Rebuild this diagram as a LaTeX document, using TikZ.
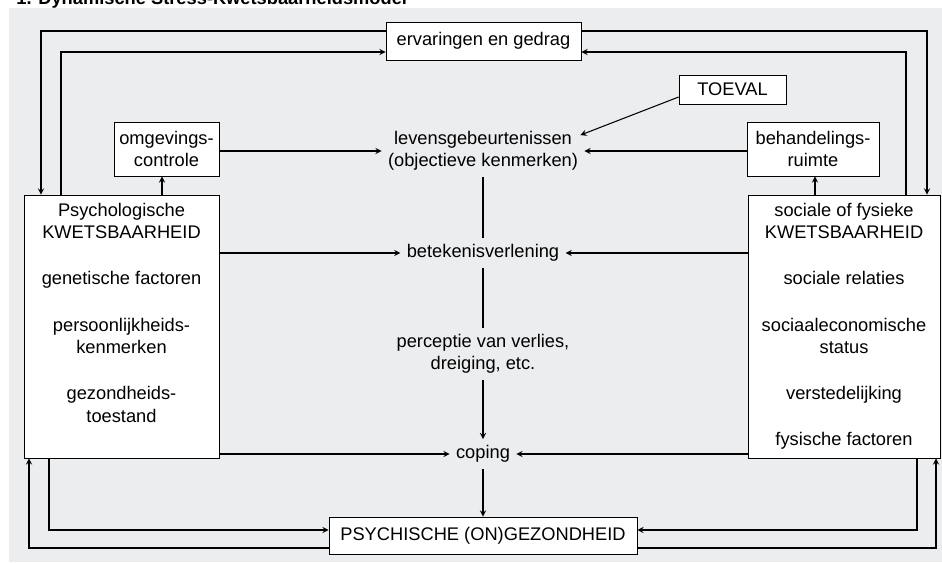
\documentclass[tikz,border=0pt]{standalone}
\usepackage{fontspec}
\setmainfont{Liberation Sans}
\usepackage{tikz}
\usetikzlibrary{positioning}
\definecolor{bggray}{RGB}{236,237,239}

\begin{document}
\begin{tikzpicture}[->,>=stealth,semithick,x=0.02cm,y=-0.02cm,
	every node/.style={font=\fontsize{10.4}{12.5}\selectfont},
	box/.style={draw,fill=white,align=center,inner sep=0pt,thin},
	txt/.style={align=center},
	boxtxt/.style={align=center,anchor=north,font=\fontsize{10.4}{12.9}\selectfont}]
			\useasboundingbox (0,0) rectangle (942,563);
			\fill[bggray] (9,8) rectangle (942,562);
			\node[anchor=base west,font=\bfseries\fontsize{10.4}{12.5}\selectfont] (titel) at (10,4.5) {1. Dynamische Stress-Kwetsbaarheidsmodel};
			\node[box,minimum width=3.9cm,minimum height=0.76cm] (erv) at (483.5,41) {ervaringen en gedrag};
			\node[box,minimum width=2.14cm,minimum height=0.58cm] (toeval) at (732.5,89.5) {TOEVAL};
			\node[box,minimum width=2.1cm,minimum height=1.08cm] (omg) at (166.5,149) {omgevings-\\controle};
			\node[box,minimum width=2.64cm,minimum height=1.08cm] (beh) at (813,149) {behandelings-\\ruimte};
			\node[box,minimum width=3.9cm,minimum height=5.26cm] (psyk) at (121.5,326.5) {};
			\node[box,minimum width=3.84cm,minimum height=5.26cm] (soc) at (844,326.5) {};
			\node[box,minimum width=6.16cm,minimum height=0.74cm] (gez) at (483,535.5) {PSYCHISCHE (ON)GEZONDHEID};
			\node[boxtxt] (psyktekst) at ([yshift=-0.04cm]psyk.north) {Psychologische\\KWETSBAARHEID\\[13.3pt]genetische factoren\\[13.3pt]persoonlijkheids-\\kenmerken\\[13.3pt]gezondheids-\\toestand};
			\node[boxtxt] (soctekst) at ([yshift=-0.04cm]soc.north) {sociale of fysieke\\KWETSBAARHEID\\[13.3pt]sociale relaties\\[13.3pt]sociaaleconomische\\status\\[13.3pt]verstedelijking\\[13.3pt]fysische factoren};
			\node[txt] (lev) at (483,151) {levensgebeurtenissen\\(objectieve kenmerken)};
			\node[txt] (bet) at (483,253) {betekenisverlening};
			\node[txt] (perc) at (483,354) {perceptie van verlies,\\dreiging, etc.};
			\node[txt] (cop) at (483,454) {coping};
			\draw (erv.west |- 0,31) -| (psyk.north -| 41,0);
			\draw (psyk.north -| 61,0) |- (erv.west |- 0,52);
			\draw (erv.east |- 0,31) -| (soc.north -| 927,0);
			\draw (soc.north -| 906,0) |- (erv.east |- 0,52);
			\draw (psyk.north -| 162,0) -- (omg.south -| 162,0);
			\draw (soc.north -| 815,0) -- (beh.south -| 815,0);
			\draw (omg.east |- lev) -- (lev.west);
			\draw (beh.west |- lev) -- (lev.east);
			\draw (toeval.west |- 0,97) -- ([xshift=-0.08cm,yshift=-0.2cm]lev.north east);
			\draw (psyk.east |- bet) -- (bet.west);
			\draw (soc.west |- bet) -- (bet.east);
			\draw[-] (lev) -- (bet);
			\draw[-] (bet) -- (perc);
			\draw (perc) -- (cop);
			\draw (psyk.east |- cop) -- (cop.west);
			\draw (soc.west |- cop) -- (cop.east);
			\draw (cop) -- (gez);
			\draw (psyk.south -| 49,0) |- (gez.west |- 0,530);
			\draw (gez.west |- 0,548) -| (psyk.south -| 29,0);
			\draw (soc.south -| 917,0) |- (gez.east |- 0,530);
			\draw (gez.east |- 0,548) -| (soc.south -| 936,0);
		\end{tikzpicture}
\end{document}
